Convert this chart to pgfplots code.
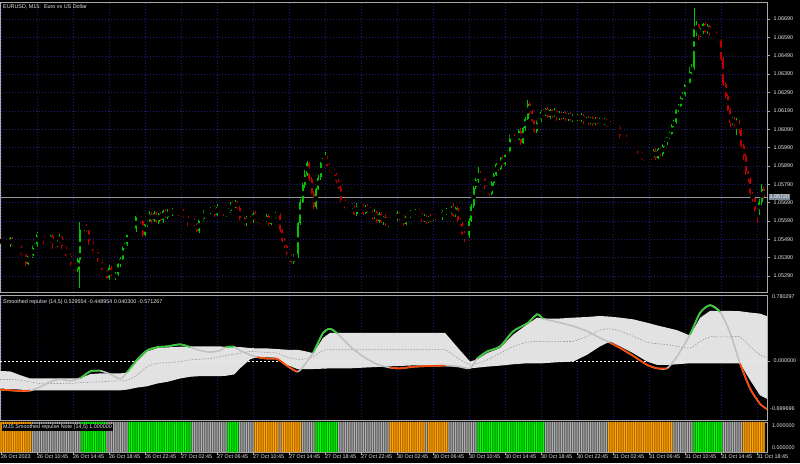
\documentclass[border=0pt]{standalone}
\usepackage{fontspec}
\setmainfont{Liberation Sans}
\usepackage{pgfplots}
\pgfplotsset{compat=1.18}
\usepackage{pgfplotstable}
\newcommand{\mtf}{\fontsize{5.4}{6.2}\selectfont}
\definecolor{framegray}{RGB}{170,170,170}
\definecolor{gridblue}{RGB}{30,30,125}
\definecolor{cgreen}{RGB}{0,195,0}
\definecolor{cred}{RGB}{190,0,0}
\definecolor{bandgray}{RGB}{226,226,226}
\definecolor{linegray}{RGB}{192,192,192}
\definecolor{midgray}{RGB}{150,150,150}
\definecolor{indgreen}{RGB}{50,205,50}
\definecolor{indorange}{RGB}{255,69,0}
\definecolor{hobright}{RGB}{255,165,0}
\definecolor{hodark}{RGB}{175,105,0}
\definecolor{hgbright}{RGB}{0,255,0}
\definecolor{hgdark}{RGB}{0,150,0}
\definecolor{hybright}{RGB}{175,175,175}
\definecolor{hydark}{RGB}{95,95,95}
\definecolor{bidgray}{RGB}{120,135,150}
\definecolor{txt}{RGB}{232,232,232}

\pgfplotstableread{
o h l c s
1.05478 1.05490 1.05468 1.05482 -1
1.05482 1.05496 1.05465 1.05471 -1
1.05471 1.05477 1.05456 1.05470 -1
1.05470 1.05482 1.05453 1.05461 -1
1.05461 1.05506 1.05449 1.05496 -1
1.05496 1.05504 1.05454 1.05460 -1
1.05460 1.05481 1.05450 1.05467 -1
1.05467 1.05473 1.05448 1.05458 -1
1.05458 1.05470 1.05446 1.05452 -1
1.05452 1.05462 1.05399 1.05413 -1
1.05413 1.05421 1.05403 1.05411 -1
1.05411 1.05425 1.05344 1.05356 -1
1.05356 1.05406 1.05350 1.05400 -1
1.05400 1.05412 1.05390 1.05400 -1
1.05400 1.05458 1.05390 1.05448 0
1.05448 1.05469 1.05442 1.05461 0
1.05461 1.05532 1.05447 1.05518 0
1.05518 1.05524 1.05507 1.05515 0
1.05515 1.05527 1.05499 1.05511 0
1.05511 1.05521 1.05468 1.05474 0
1.05474 1.05484 1.05464 1.05476 0
1.05476 1.05492 1.05466 1.05478 0
1.05478 1.05515 1.05472 1.05509 0
1.05509 1.05521 1.05440 1.05454 0
1.05454 1.05470 1.05446 1.05460 0
1.05460 1.05484 1.05448 1.05476 0
1.05476 1.05517 1.05470 1.05503 0
1.05503 1.05509 1.05435 1.05445 0
1.05445 1.05457 1.05432 1.05442 0
1.05442 1.05452 1.05394 1.05400 0
1.05400 1.05410 1.05386 1.05402 0
1.05402 1.05416 1.05346 1.05354 0
1.05354 1.05360 1.05336 1.05348 0
1.05348 1.05360 1.05319 1.05325 0
1.05325 1.05388 1.05315 1.05378 0
1.05378 1.05584 1.05224 1.05552 0
1.05552 1.05567 1.05546 1.05553 1
1.05553 1.05569 1.05539 1.05563 1
1.05563 1.05575 1.05528 1.05536 1
1.05536 1.05546 1.05460 1.05472 1
1.05472 1.05480 1.05463 1.05469 1
1.05469 1.05483 1.05418 1.05428 1
1.05428 1.05434 1.05414 1.05424 1
1.05424 1.05436 1.05370 1.05376 1
1.05376 1.05386 1.05356 1.05370 1
1.05370 1.05378 1.05317 1.05325 1
1.05325 1.05339 1.05312 1.05324 1
1.05324 1.05330 1.05274 1.05280 0
1.05280 1.05347 1.05270 1.05335 0
1.05335 1.05345 1.05281 1.05291 0
1.05291 1.05299 1.05279 1.05285 0
1.05285 1.05312 1.05271 1.05298 0
1.05298 1.05360 1.05290 1.05354 0
1.05354 1.05396 1.05342 1.05384 0
1.05384 1.05456 1.05378 1.05446 0
1.05446 1.05471 1.05436 1.05463 0
1.05463 1.05526 1.05453 1.05512 0
1.05512 1.05539 1.05506 1.05533 1
1.05533 1.05554 1.05519 1.05542 1
1.05542 1.05552 1.05533 1.05541 1
1.05541 1.05626 1.05529 1.05618 1
1.05618 1.05632 1.05610 1.05616 1
1.05616 1.05622 1.05580 1.05590 1
1.05590 1.05602 1.05506 1.05516 1
1.05516 1.05582 1.05510 1.05572 1
1.05572 1.05599 1.05558 1.05591 1
1.05591 1.05645 1.05583 1.05631 1
1.05631 1.05637 1.05582 1.05594 1
1.05594 1.05644 1.05588 1.05632 1
1.05632 1.05642 1.05577 1.05587 1
1.05587 1.05637 1.05577 1.05629 1
1.05629 1.05643 1.05590 1.05596 1
1.05596 1.05651 1.05582 1.05645 1
1.05645 1.05657 1.05604 1.05612 1
1.05612 1.05655 1.05600 1.05645 1
1.05645 1.05653 1.05624 1.05630 1
1.05630 1.05663 1.05620 1.05649 1
1.05649 1.05655 1.05636 1.05646 1
1.05646 1.05659 1.05640 1.05647 1
1.05647 1.05657 1.05618 1.05632 1
1.05632 1.05651 1.05624 1.05643 1
1.05643 1.05657 1.05608 1.05620 1
1.05620 1.05626 1.05612 1.05618 1
1.05618 1.05630 1.05564 1.05574 1
1.05574 1.05586 1.05564 1.05576 1
1.05576 1.05593 1.05570 1.05585 0
1.05585 1.05599 1.05565 1.05579 0
1.05579 1.05585 1.05529 1.05537 0
1.05537 1.05606 1.05525 1.05594 0
1.05594 1.05612 1.05588 1.05602 0
1.05602 1.05650 1.05592 1.05642 0
1.05642 1.05656 1.05628 1.05638 0
1.05638 1.05649 1.05632 1.05643 0
1.05643 1.05664 1.05629 1.05652 0
1.05652 1.05672 1.05644 1.05662 0
1.05662 1.05670 1.05611 1.05623 0
1.05623 1.05681 1.05617 1.05667 0
1.05667 1.05673 1.05646 1.05656 0
1.05656 1.05670 1.05646 1.05658 0
1.05658 1.05668 1.05619 1.05625 0
1.05625 1.05646 1.05611 1.05638 0
1.05638 1.05660 1.05630 1.05646 1
1.05646 1.05691 1.05634 1.05685 1
1.05685 1.05697 1.05664 1.05670 1
1.05670 1.05702 1.05660 1.05692 1
1.05692 1.05700 1.05653 1.05663 1
1.05663 1.05677 1.05590 1.05596 0
1.05596 1.05604 1.05582 1.05598 0
1.05598 1.05610 1.05566 1.05574 0
1.05574 1.05617 1.05562 1.05607 0
1.05607 1.05615 1.05595 1.05601 0
1.05601 1.05615 1.05582 1.05592 0
1.05592 1.05638 1.05582 1.05632 0
1.05632 1.05644 1.05590 1.05596 -1
1.05596 1.05608 1.05582 1.05598 -1
1.05598 1.05606 1.05575 1.05583 -1
1.05583 1.05597 1.05565 1.05577 -1
1.05577 1.05588 1.05571 1.05582 -1
1.05582 1.05630 1.05572 1.05618 -1
1.05618 1.05628 1.05564 1.05574 -1
1.05574 1.05615 1.05568 1.05607 -1
1.05607 1.05623 1.05593 1.05609 -1
1.05609 1.05640 1.05601 1.05634 -1
1.05634 1.05646 1.05613 1.05625 -1
1.05625 1.05635 1.05534 1.05540 0
1.05540 1.05548 1.05472 1.05482 -1
1.05482 1.05496 1.05446 1.05456 -1
1.05456 1.05462 1.05403 1.05409 -1
1.05409 1.05421 1.05389 1.05403 -1
1.05403 1.05413 1.05361 1.05369 -1
1.05369 1.05408 1.05357 1.05400 -1
1.05400 1.05414 1.05392 1.05398 -1
1.05398 1.05586 1.05388 1.05580 -1
1.05580 1.05712 1.05570 1.05694 -1
1.05694 1.05796 1.05688 1.05786 0
1.05786 1.05866 1.05772 1.05843 0
1.05843 1.05920 1.05835 1.05905 0
1.05905 1.05911 1.05808 1.05820 0
1.05820 1.05832 1.05739 1.05745 0
1.05745 1.05755 1.05655 1.05665 0
1.05665 1.05771 1.05655 1.05763 1
1.05763 1.05841 1.05757 1.05827 1
1.05827 1.05913 1.05813 1.05907 1
1.05907 1.05935 1.05899 1.05923 1
1.05923 1.05966 1.05911 1.05934 1
1.05934 1.05942 1.05884 1.05890 1
1.05890 1.05904 1.05864 1.05874 1
1.05874 1.05880 1.05854 1.05864 1
1.05864 1.05876 1.05839 1.05845 1
1.05845 1.05855 1.05795 1.05809 1
1.05809 1.05817 1.05765 1.05773 0
1.05773 1.05787 1.05691 1.05703 0
1.05703 1.05709 1.05691 1.05697 0
1.05697 1.05709 1.05653 1.05663 0
1.05663 1.05673 1.05652 1.05662 0
1.05662 1.05680 1.05656 1.05672 0
1.05672 1.05688 1.05658 1.05674 0
1.05674 1.05680 1.05621 1.05629 0
1.05629 1.05689 1.05617 1.05677 0
1.05677 1.05687 1.05668 1.05674 0
1.05674 1.05682 1.05660 1.05670 0
1.05670 1.05684 1.05625 1.05635 0
1.05635 1.05675 1.05629 1.05669 0
1.05669 1.05681 1.05640 1.05654 0
1.05654 1.05664 1.05635 1.05643 0
1.05643 1.05651 1.05597 1.05609 0
1.05609 1.05654 1.05603 1.05640 0
1.05640 1.05646 1.05580 1.05590 0
1.05590 1.05641 1.05580 1.05629 0
1.05629 1.05639 1.05579 1.05585 0
1.05585 1.05620 1.05571 1.05612 0
1.05612 1.05626 1.05562 1.05570 0
1.05570 1.05589 1.05558 1.05583 0
1.05583 1.05614 1.05577 1.05602 -1
1.05602 1.05614 1.05592 1.05604 -1
1.05604 1.05612 1.05589 1.05599 -1
1.05599 1.05646 1.05593 1.05632 -1
1.05632 1.05638 1.05595 1.05609 -1
1.05609 1.05624 1.05601 1.05612 -1
1.05612 1.05622 1.05562 1.05574 -1
1.05574 1.05626 1.05568 1.05618 -1
1.05618 1.05632 1.05606 1.05616 -1
1.05616 1.05651 1.05606 1.05645 -1
1.05645 1.05657 1.05630 1.05636 -1
1.05636 1.05653 1.05622 1.05643 -1
1.05643 1.05651 1.05632 1.05640 -1
1.05640 1.05654 1.05624 1.05636 -1
1.05636 1.05642 1.05588 1.05594 -1
1.05594 1.05627 1.05584 1.05615 -1
1.05615 1.05625 1.05577 1.05587 0
1.05587 1.05620 1.05581 1.05612 -1
1.05612 1.05626 1.05587 1.05601 -1
1.05601 1.05624 1.05593 1.05618 -1
1.05618 1.05630 1.05595 1.05607 -1
1.05607 1.05622 1.05601 1.05612 -1
1.05612 1.05620 1.05598 1.05608 -1
1.05608 1.05652 1.05598 1.05638 -1
1.05638 1.05644 1.05629 1.05635 -1
1.05635 1.05659 1.05621 1.05647 -1
1.05647 1.05657 1.05630 1.05638 0
1.05638 1.05672 1.05626 1.05664 0
1.05664 1.05690 1.05614 1.05620 0
1.05620 1.05668 1.05610 1.05662 0
1.05662 1.05674 1.05586 1.05596 0
1.05596 1.05606 1.05568 1.05574 0
1.05574 1.05582 1.05506 1.05520 0
1.05520 1.05534 1.05475 1.05503 0
1.05503 1.05511 1.05491 1.05505 0
1.05505 1.05606 1.05499 1.05594 0
1.05594 1.05683 1.05584 1.05673 0
1.05673 1.05781 1.05663 1.05773 0
1.05773 1.05826 1.05767 1.05812 0
1.05812 1.05884 1.05798 1.05850 1
1.05850 1.05862 1.05819 1.05827 1
1.05827 1.05837 1.05813 1.05825 1
1.05825 1.05833 1.05764 1.05770 1
1.05770 1.05785 1.05760 1.05771 1
1.05771 1.05777 1.05728 1.05738 1
1.05738 1.05809 1.05732 1.05797 1
1.05797 1.05853 1.05783 1.05843 1
1.05843 1.05907 1.05835 1.05899 1
1.05899 1.05913 1.05862 1.05874 1
1.05874 1.05942 1.05868 1.05936 1
1.05936 1.05948 1.05889 1.05899 1
1.05899 1.05963 1.05889 1.05953 1
1.05953 1.05977 1.05947 1.05969 1
1.05969 1.06057 1.05955 1.06043 1
1.06043 1.06060 1.06035 1.06054 1
1.06054 1.06066 1.06020 1.06032 1
1.06032 1.06044 1.06026 1.06034 1
1.06034 1.06089 1.06024 1.06081 1
1.06081 1.06095 1.06007 1.06017 1
1.06017 1.06102 1.06011 1.06096 1
1.06096 1.06159 1.06082 1.06147 1
1.06147 1.06249 1.06139 1.06230 1
1.06230 1.06238 1.06170 1.06182 1
1.06182 1.06196 1.06127 1.06133 1
1.06133 1.06139 1.06068 1.06078 1
1.06078 1.06142 1.06068 1.06130 1
1.06130 1.06151 1.06124 1.06141 1
1.06141 1.06193 1.06127 1.06185 1
1.06185 1.06199 1.06166 1.06174 1
1.06174 1.06206 1.06162 1.06200 0
1.06200 1.06212 1.06153 1.06159 0
1.06159 1.06204 1.06149 1.06194 0
1.06194 1.06202 1.06153 1.06163 0
1.06163 1.06206 1.06157 1.06192 0
1.06192 1.06198 1.06136 1.06150 0
1.06150 1.06189 1.06142 1.06177 0
1.06177 1.06187 1.06142 1.06154 0
1.06154 1.06187 1.06148 1.06179 0
1.06179 1.06193 1.06136 1.06146 0
1.06146 1.06180 1.06136 1.06174 0
1.06174 1.06186 1.06135 1.06141 0
1.06141 1.06172 1.06127 1.06162 0
1.06162 1.06170 1.06140 1.06148 0
1.06148 1.06175 1.06136 1.06161 0
1.06161 1.06167 1.06135 1.06141 0
1.06141 1.06177 1.06131 1.06165 0
1.06165 1.06175 1.06118 1.06128 0
1.06128 1.06157 1.06122 1.06149 0
1.06149 1.06163 1.06113 1.06127 0
1.06127 1.06158 1.06119 1.06152 0
1.06152 1.06164 1.06107 1.06119 0
1.06119 1.06157 1.06113 1.06147 0
1.06147 1.06155 1.06120 1.06130 0
1.06130 1.06149 1.06120 1.06135 0
1.06135 1.06141 1.06120 1.06126 0
1.06126 1.06151 1.06112 1.06139 0
1.06139 1.06149 1.06106 1.06114 0
1.06114 1.06129 1.06102 1.06121 -1
1.06121 1.06135 1.06100 1.06106 -1
1.06106 1.06114 1.06096 1.06108 -1
1.06108 1.06120 1.06089 1.06099 -1
1.06099 1.06113 1.06093 1.06103 -1
1.06103 1.06111 1.06040 1.06054 -1
1.06054 1.06068 1.06035 1.06043 -1
1.06043 1.06051 1.06031 1.06045 -1
1.06045 1.06057 1.06015 1.06021 -1
1.06021 1.06031 1.06007 1.06017 -1
1.06017 1.06025 1.06004 1.06014 -1
1.06014 1.06028 1.06005 1.06011 -1
1.06011 1.06017 1.05987 1.06001 -1
1.06001 1.06013 1.05957 1.05965 -1
1.05965 1.05975 1.05947 1.05959 -1
1.05959 1.05967 1.05924 1.05930 -1
1.05930 1.05948 1.05920 1.05934 -1
1.05934 1.05942 1.05924 1.05936 -1
1.05936 1.05957 1.05930 1.05945 -1
1.05945 1.05955 1.05925 1.05939 -1
1.05939 1.05980 1.05931 1.05972 -1
1.05972 1.05986 1.05923 1.05935 -1
1.05935 1.05987 1.05929 1.05981 -1
1.05981 1.05993 1.05946 1.05956 -1
1.05956 1.06011 1.05946 1.06001 -1
1.06001 1.06027 1.05995 1.06019 -1
1.06019 1.06060 1.06005 1.06046 -1
1.06046 1.06073 1.06038 1.06067 -1
1.06067 1.06120 1.06055 1.06108 -1
1.06108 1.06140 1.06102 1.06130 0
1.06130 1.06204 1.06120 1.06196 0
1.06196 1.06231 1.06186 1.06217 0
1.06217 1.06272 1.06211 1.06266 0
1.06266 1.06291 1.06252 1.06279 0
1.06279 1.06345 1.06271 1.06335 0
1.06335 1.06351 1.06323 1.06343 0
1.06343 1.06430 1.06337 1.06416 0
1.06416 1.06444 1.06380 1.06422 0
1.06422 1.06750 1.06412 1.06634 1
1.06634 1.06680 1.06600 1.06655 1
1.06655 1.06663 1.06578 1.06599 1
1.06599 1.06640 1.06591 1.06620 1
1.06620 1.06670 1.06608 1.06664 1
1.06664 1.06676 1.06614 1.06620 1
1.06620 1.06663 1.06610 1.06653 1
1.06653 1.06661 1.06601 1.06611 1
1.06611 1.06625 1.06602 1.06608 1
1.06608 1.06614 1.06591 1.06605 1
1.06605 1.06617 1.06582 1.06590 1
1.06590 1.06600 1.06563 1.06575 1
1.06575 1.06583 1.06465 1.06471 1
1.06471 1.06485 1.06329 1.06339 0
1.06339 1.06345 1.06262 1.06272 0
1.06272 1.06284 1.06189 1.06195 0
1.06195 1.06205 1.06104 1.06125 0
1.06125 1.06160 1.06117 1.06141 0
1.06141 1.06155 1.06104 1.06119 0
1.06119 1.06150 1.06060 1.06126 0
1.06126 1.06138 1.06066 1.06085 0
1.06085 1.06095 1.05990 1.06000 0
1.06000 1.06008 1.05924 1.05947 -1
1.05947 1.05961 1.05842 1.05856 -1
1.05856 1.05862 1.05804 1.05817 -1
1.05817 1.05829 1.05728 1.05740 -1
1.05740 1.05750 1.05695 1.05716 -1
1.05716 1.05724 1.05640 1.05650 -1
1.05650 1.05664 1.05579 1.05640 -1
1.05640 1.05712 1.05620 1.05694 -1
1.05694 1.05790 1.05680 1.05765 -1
1.05765 1.05775 1.05712 1.05720 -1
}\candles

\pgfplotstableread{
x up lo mid main
-0.5 -0.120 -0.328 -0.220 -0.340
4.0 -0.124 -0.332 -0.220 -0.348
8.4 -0.168 -0.340 -0.228 -0.356
12.9 -0.208 -0.348 -0.248 -0.352
17.3 -0.208 -0.348 -0.268 -0.308
21.8 -0.208 -0.348 -0.268 -0.248
26.2 -0.208 -0.348 -0.268 -0.216
30.7 -0.208 -0.348 -0.268 -0.236
35.1 -0.208 -0.348 -0.256 -0.205
39.6 -0.156 -0.348 -0.252 -0.124
44.0 -0.148 -0.348 -0.248 -0.116
48.4 -0.148 -0.348 -0.240 -0.156
52.9 -0.148 -0.348 -0.236 -0.212
56.0 -0.140 -0.340 -0.228 -0.135
60.4 -0.008 -0.316 -0.168 0.012
64.9 0.112 -0.300 -0.068 0.124
69.3 0.150 -0.268 -0.028 0.162
73.8 0.160 -0.248 -0.020 0.172
79.6 0.168 -0.208 -0.008 0.196
84.0 0.172 -0.188 0.012 0.164
88.4 0.172 -0.180 0.020 0.124
92.9 0.172 -0.180 0.028 0.104
97.3 0.172 -0.180 0.052 0.124
100.0 0.164 -0.176 0.064 0.164
103.6 0.164 -0.160 0.080 0.168
106.2 0.164 -0.088 0.092 0.124
110.7 0.152 0.020 0.112 0.072
113.8 0.148 0.044 0.108 0.044
118.2 0.148 0.044 0.100 0.028
122.7 0.140 0.036 0.092 0.024
127.1 0.132 -0.048 0.044 -0.060
131.6 0.132 -0.096 0.020 -0.128
134.2 0.120 -0.096 0.020 -0.068
138.7 0.092 -0.096 0.052 0.096
143.1 0.272 -0.092 0.124 0.332
146.2 0.332 -0.088 0.132 0.380
149.3 0.332 -0.088 0.132 0.328
155.1 0.332 -0.088 0.132 0.172
160.9 0.332 -0.080 0.132 0.052
167.1 0.332 -0.072 0.132 -0.040
172.9 0.332 -0.064 0.132 -0.080
177.3 0.332 -0.060 0.132 -0.088
184.0 0.332 -0.052 0.132 -0.068
190.7 0.332 -0.052 0.132 -0.060
197.3 0.332 -0.052 0.132 -0.056
203.1 0.152 -0.068 0.032 -0.066
208.4 -0.008 -0.088 -0.048 -0.088
211.6 0.018 -0.080 -0.028 0.028
216.0 0.092 -0.068 0.012 0.112
221.8 0.152 -0.056 0.092 0.172
227.6 0.312 -0.040 0.172 0.352
233.8 0.432 -0.028 0.220 0.444
238.2 0.512 -0.028 0.232 0.552
240.9 0.500 -0.028 0.232 0.500
247.1 0.500 -0.016 0.232 0.460
254.2 0.512 -0.008 0.232 0.412
260.4 0.520 0.072 0.292 0.352
266.2 0.532 0.172 0.364 0.272
270.7 0.524 0.230 0.380 0.215
275.1 0.512 0.172 0.352 0.152
280.9 0.492 0.092 0.292 0.060
287.1 0.452 -0.008 0.220 -0.048
291.6 0.420 -0.048 0.204 -0.088
296.0 0.392 -0.048 0.192 -0.088
300.4 0.364 -0.040 0.172 0.052
306.2 0.300 -0.028 0.152 0.312
310.7 0.512 -0.028 0.232 0.572
315.1 0.592 -0.028 0.284 0.660
319.6 0.592 -0.028 0.284 0.580
324.0 0.592 -0.028 0.284 0.332
328.4 0.588 -0.028 0.284 -0.030
332.9 0.572 -0.228 0.172 -0.328
337.3 0.560 -0.408 0.072 -0.508
340.4 0.530 -0.449 0.040 -0.571
}\ind

\pgfplotsset{
  mt/.style={
    scale only axis, width=767pt, xmin=-0.5, xmax=340.4,
    axis line style={framegray, line width=0.8pt},
    xtick={0,16,...,336},
    tick label style={font=\mtf, text=txt},
    tick align=outside,
    major tick length=3pt,
    tick style={framegray, line width=0.6pt},
    grid style={gridblue, dash pattern=on 1pt off 2pt, line width=0.5pt},
  },
  indax/.style={scale only axis, width=767pt, xmin=-0.5, xmax=340.4,
    at={(0pt,43pt)}, anchor=south west, height=125pt,
    ymin=-0.699696, ymax=0.780297, hide axis},
  wick/.style={only marks, mark=none,
    error bars/y dir=both, error bars/y explicit, error bars/error mark=none,
    error bars/error bar style={line width=0.75pt, solid, draw=#1}},
  body/.style={only marks, mark=none,
    error bars/y dir=both, error bars/y explicit, error bars/error mark=none,
    error bars/error bar style={line width=1.9pt, solid, draw=#1}},
  hbar/.style n args={2}{ybar, bar width=#2, bar shift=0pt, fill=#1, draw=none},
  gseg/.style={indgreen, line width=1.6pt, smooth, tension=0.4},
  oseg/.style={indorange, line width=1.6pt, smooth, tension=0.4},
}

\begin{document}
\begin{tikzpicture}
\fill[black] (0pt,0pt) rectangle (800pt,463pt);

% ---------------- main price panel
\begin{axis}[mt, at={(0pt,171pt)}, anchor=south west, height=290pt,
  ymin=1.05203, ymax=1.06783,
  xticklabels=\empty, xtick style={draw=none},
  ytick={1.0529,1.0539,1.0549,1.0559,1.0569,1.0579,1.0589,1.0599,1.0609,1.0619,1.0629,1.0639,1.0649,1.0659,1.0669},
  yticklabels={1.05290,1.05390,1.05490,1.05590,1.05690,1.05790,1.05890,1.05990,1.06090,1.06190,1.06290,1.06390,1.06490,1.06590,1.06690},
  ytick pos=right, yticklabel pos=right,
  grid=major]
\addplot[color={rgb,255:red,150;green,150;blue,160}, line width=0.6pt] coordinates {(-0.5,1.05720) (340.4,1.05720)};
\addplot[restrict expr to domain={\thisrow{c}-\thisrow{o}}{0:1}, wick=cgreen]
  table[x expr=\coordindex, y expr={(\thisrow{h}+\thisrow{l})/2}, y error expr={(\thisrow{h}-\thisrow{l})/2}] {\candles};
\addplot[restrict expr to domain={\thisrow{c}-\thisrow{o}}{-1:-0.000001}, wick=cred]
  table[x expr=\coordindex, y expr={(\thisrow{h}+\thisrow{l})/2}, y error expr={(\thisrow{h}-\thisrow{l})/2}] {\candles};
\addplot[restrict expr to domain={\thisrow{c}-\thisrow{o}}{0:1}, body=cgreen]
  table[x expr=\coordindex, y expr={(\thisrow{o}+\thisrow{c})/2}, y error expr={max(abs(\thisrow{c}-\thisrow{o})/2,0.00002)}] {\candles};
\addplot[restrict expr to domain={\thisrow{c}-\thisrow{o}}{-1:-0.000001}, body=cred]
  table[x expr=\coordindex, y expr={(\thisrow{o}+\thisrow{c})/2}, y error expr={max(abs(\thisrow{c}-\thisrow{o})/2,0.00002)}] {\candles};
\end{axis}

% ---------------- indicator panel: frame and grid
\begin{axis}[mt, at={(0pt,43pt)}, anchor=south west, height=125pt,
  ymin=-0.699696, ymax=0.780297,
  xticklabels=\empty, xtick style={draw=none},
  ytick={0}, yticklabels={0.000000}, ytick pos=right, yticklabel pos=right,
  xmajorgrids]
\addplot[white, line width=0.5pt, dash pattern=on 2pt off 2pt] coordinates {(-0.5,0) (340.4,0)};
\end{axis}
% band
\begin{axis}[indax, stack plots=y]
\addplot[draw=none] table[x=x, y=lo] {\ind};
\addplot[fill=bandgray, draw=none] table[x=x, y expr=\thisrow{up}-\thisrow{lo}] {\ind} \closedcycle;
\end{axis}
% lines
\begin{axis}[indax]
\addplot[white, line width=0.5pt, dash pattern=on 2pt off 2pt, opacity=0.35] coordinates {(-0.5,0) (340.4,0)};
\addplot[midgray, line width=0.6pt, dash pattern=on 1.5pt off 1.5pt, smooth, tension=0.4] table[x=x, y=mid] {\ind};
\addplot[linegray, line width=1.6pt, smooth, tension=0.4] table[x=x, y=main] {\ind};
\addplot[oseg] coordinates {(-0.5,-0.340) (4.0,-0.348) (8.4,-0.356) (12.9,-0.352)};
\addplot[oseg] coordinates {(113.8,0.044) (118.2,0.028) (122.7,0.024) (127.1,-0.060) (131.6,-0.128)};
\addplot[oseg] coordinates {(172.9,-0.080) (177.3,-0.088) (184.0,-0.068) (190.7,-0.060) (197.3,-0.056)};
\addplot[oseg] coordinates {(270.7,0.215) (275.1,0.152) (280.9,0.060) (287.1,-0.048) (291.6,-0.088) (296.0,-0.088)};
\addplot[oseg] coordinates {(328.4,-0.030) (332.9,-0.328) (337.3,-0.508) (340.4,-0.571)};
\addplot[gseg] coordinates {(35.1,-0.205) (39.6,-0.124) (44.0,-0.116)};
\addplot[gseg] coordinates {(56.0,-0.135) (60.4,0.012) (64.9,0.124) (69.3,0.162) (73.8,0.172) (79.6,0.196) (84.0,0.164)};
\addplot[gseg] coordinates {(100.0,0.164) (103.6,0.168)};
\addplot[gseg] coordinates {(138.7,0.096) (143.1,0.332) (146.2,0.380) (149.3,0.328)};
\addplot[gseg] coordinates {(211.6,0.028) (216.0,0.112) (221.8,0.172) (227.6,0.352) (233.8,0.444) (238.2,0.552) (240.9,0.500)};
\addplot[gseg] coordinates {(306.2,0.312) (310.7,0.572) (315.1,0.660) (319.6,0.580)};
\end{axis}

% ---------------- histogram panel
\begin{axis}[mt, at={(0pt,11pt)}, anchor=south west, height=30pt,
  ymin=0, ymax=1, ytick=\empty,
  xtick pos=left,
  xticklabels={26 Oct 2023,26 Oct 10:45,26 Oct 14:45,26 Oct 18:45,26 Oct 22:45,27 Oct 02:45,27 Oct 06:45,27 Oct 10:45,27 Oct 14:45,27 Oct 18:45,27 Oct 22:45,30 Oct 02:45,30 Oct 06:45,30 Oct 10:45,30 Oct 14:45,30 Oct 18:45,30 Oct 22:45,31 Oct 02:45,31 Oct 06:45,31 Oct 10:45,31 Oct 14:45,31 Oct 18:45},
  xticklabel style={anchor=north west, xshift=-1.2pt, yshift=1.5pt, inner sep=1pt}]
\addplot[hbar={hodark}{2.3pt}, restrict expr to domain={\thisrow{s}}{-1.5:-0.5}] table[x expr=\coordindex, y expr=1] {\candles};
\addplot[hbar={hydark}{2.3pt}, restrict expr to domain={\thisrow{s}}{-0.5:0.5}] table[x expr=\coordindex, y expr=1] {\candles};
\addplot[hbar={hgdark}{2.3pt}, restrict expr to domain={\thisrow{s}}{0.5:1.5}] table[x expr=\coordindex, y expr=1] {\candles};
\addplot[hbar={hobright}{0.9pt}, restrict expr to domain={\thisrow{s}}{-1.5:-0.5}] table[x expr=\coordindex, y expr=1] {\candles};
\addplot[hbar={hybright}{0.9pt}, restrict expr to domain={\thisrow{s}}{-0.5:0.5}] table[x expr=\coordindex, y expr=1] {\candles};
\addplot[hbar={hgbright}{0.9pt}, restrict expr to domain={\thisrow{s}}{0.5:1.5}] table[x expr=\coordindex, y expr=1] {\candles};
\end{axis}

% ---------------- texts
\node[anchor=west, text=txt, font=\mtf, inner sep=0pt] at (3pt,456pt) {EURUSD, M15:\ \ Euro vs US Dollar};
\node[anchor=west, text=txt, font=\mtf, inner sep=0pt] at (3pt,161pt) {Smoothed repulse (14,5) 0.529554 -0.448954 0.040300 -0.571267};
\node[anchor=west, text=txt, font=\mtf, fill=black, inner sep=1pt] at (2pt,35.5pt) {MJS Smoothed repulse Note (14,5) 1.000000};
\node[anchor=west, text=txt, font=\mtf, inner sep=0pt] at (772pt,166pt) {0.780297};
\node[anchor=west, text=txt, font=\mtf, inner sep=0pt] at (770pt,54pt) {-0.699696};
\node[anchor=west, text=txt, font=\mtf, inner sep=0pt] at (772pt,37pt) {1.000000};
\node[anchor=west, text=txt, font=\mtf, inner sep=0pt] at (772pt,15pt) {0.000000};
\node[anchor=west, text=white, font=\mtf, fill=bidgray, inner sep=1pt] at (768.5pt,266pt) {1.05720};
\pgfresetboundingbox
\path[use as bounding box] (0pt,0pt) rectangle (800pt,463pt);
\end{tikzpicture}
\end{document}
